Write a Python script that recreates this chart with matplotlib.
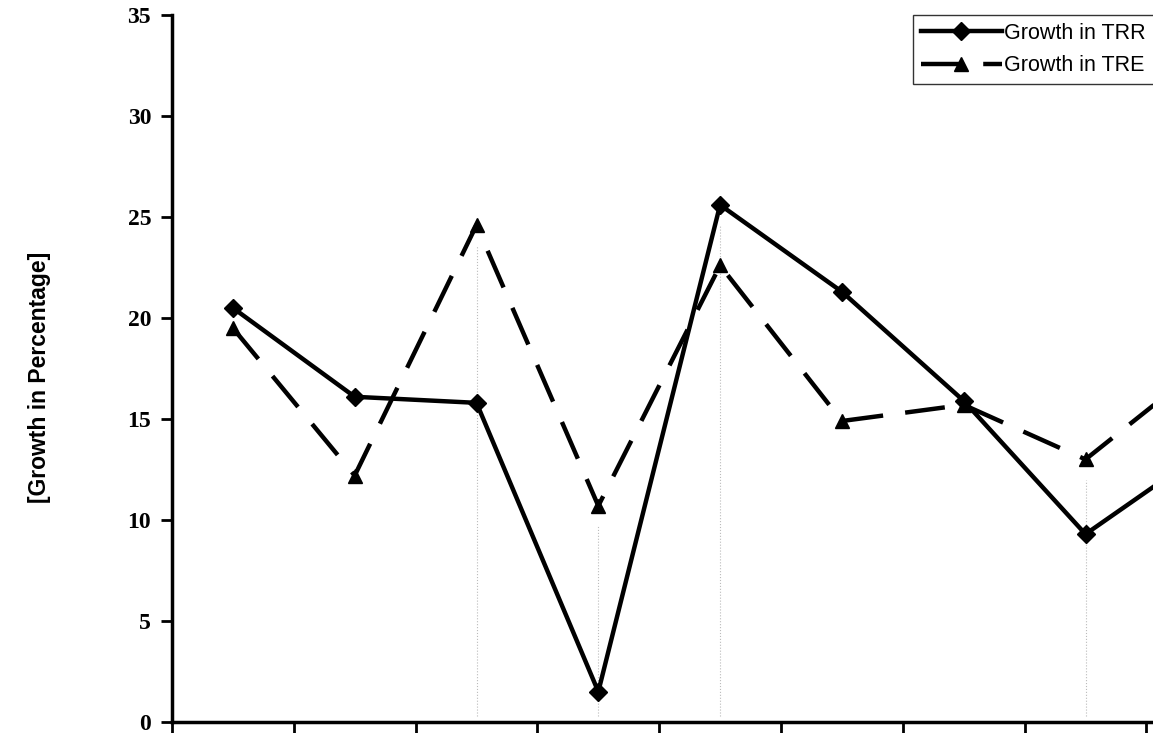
import matplotlib
matplotlib.use('Agg')
import matplotlib.pyplot as plt
import numpy as np

# values (9th category is cut off at the right edge)
categories = ['1', '2', '3', '4', '5', '6', '7', '8', '9']
trr = [20.5, 16.1, 15.8, 1.5, 25.6, 21.3, 15.9, 9.3, 13.5]
tre = [19.5, 12.2, 24.6, 10.7, 22.6, 14.9, 15.7, 13.0, 17.8]
yticks = [0, 5, 10, 15, 20, 25, 30, 35]

fig = plt.figure(figsize=(11.53, 7.33), dpi=100)
# axes wider than the figure so the last category is cropped like the original
ax = fig.add_axes([172/1153, 11/733, 9*121.8/1153, 707/733])

x = np.arange(len(categories)) + 0.5

# faint scan drop lines
for i in [2, 3, 4, 7]:
    ax.plot([x[i], x[i]], [0.3, max(trr[i], tre[i]) - 1], color='#bbbbbb',
            lw=0.8, ls=':', zorder=1)

ax.plot(x, trr, color='black', lw=3.2, marker='D', markersize=9,
        label='Growth in TRR', zorder=3)
ax.plot(x, tre, color='black', lw=3.2, ls=(0, (9, 5)), marker='^', markersize=10,
        label='Growth in TRE', zorder=3)

ax.set_xlim(0, 9)
ax.set_ylim(0, 35)
ax.set_xticks(np.arange(10))
ax.set_xticklabels([])
ax.set_yticks(yticks)
ax.set_yticklabels([str(v) for v in yticks], fontfamily='Liberation Serif',
                   fontweight='bold', fontsize=17)
ax.tick_params(axis='both', direction='out', length=8, width=2)
ax.tick_params(axis='y', pad=7)

ax.spines['top'].set_visible(False)
ax.spines['right'].set_visible(False)
ax.spines['left'].set_linewidth(2.5)
ax.spines['bottom'].set_linewidth(2.5)

fig.text(40/1153, 1 - 377/733, '[Growth in Percentage]', rotation=90,
         ha='center', va='center', fontfamily='Liberation Sans',
         fontweight='bold', fontsize=16.5)

leg = ax.legend(loc='upper left', bbox_to_anchor=(913/1153, 1 - 15/733),
                bbox_transform=fig.transFigure, frameon=True, fancybox=False,
                prop={'family': 'Liberation Sans', 'size': 15.5},
                handlelength=3.8, handletextpad=0.1, borderpad=0.35,
                labelspacing=0.55, borderaxespad=0)
leg.get_frame().set_edgecolor('black')
leg.get_frame().set_linewidth(1)

fig.savefig('out.png', dpi=100)
